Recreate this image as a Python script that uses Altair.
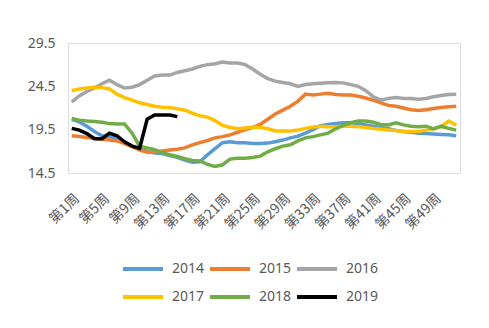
import altair as alt
import pandas as pd

weeks = [f"第{i}周" for i in range(1, 53)]
tick_labels = ["第1周", "第5周", "第9周", "第13周", "第17周", "第21周", "第25周",
               "第29周", "第33周", "第37周", "第41周", "第45周", "第49周"]
years = ["2014", "2015", "2016", "2017", "2018", "2019"]
colors = ["#5B9BD5", "#ED7D31", "#A5A5A5", "#FFC000", "#70AD47", "#000000"]

v2014 = [20.7, 20.4, 19.9, 19.3, 18.8, 18.7, 18.5, 18.0, 17.6, 17.3,
         17.0, 16.8, 16.75, 16.5, 16.3, 16.0, 15.75, 15.8, 16.6, 17.3,
         18.0, 18.1, 18.0, 18.0, 17.9, 17.9, 17.95, 18.1, 18.3, 18.55,
         18.75, 19.1, 19.5, 19.95, 20.1, 20.2, 20.3, 20.3, 20.2, 20.05,
         19.9, 19.75, 19.6, 19.4, 19.3, 19.2, 19.1, 19.05, 19.0, 18.95,
         18.9, 18.8]
v2015 = [18.8, 18.7, 18.6, 18.5, 18.4, 18.3, 18.2, 17.9, 17.55, 17.15,
         16.9, 16.9, 17.05, 17.15, 17.25, 17.4, 17.75, 18.0, 18.25, 18.55,
         18.7, 18.9, 19.2, 19.5, 19.75, 20.1, 20.7, 21.3, 21.75, 22.2,
         22.8, 23.6, 23.5, 23.6, 23.7, 23.55, 23.5, 23.5, 23.35, 23.15,
         22.9, 22.6, 22.3, 22.2, 22.0, 21.8, 21.7, 21.8, 21.95, 22.05,
         22.15, 22.2]
v2016 = [22.7, 23.4, 23.9, 24.3, 24.8, 25.2, 24.7, 24.3, 24.4, 24.7,
         25.2, 25.7, 25.8, 25.8, 26.1, 26.3, 26.5, 26.8, 27.0, 27.1,
         27.3, 27.2, 27.2, 27.0, 26.5, 25.9, 25.4, 25.1, 24.95, 24.8,
         24.5, 24.7, 24.8, 24.85, 24.9, 24.95, 24.9, 24.7, 24.5, 24.0,
         23.3, 22.9, 23.1, 23.2, 23.1, 23.1, 23.0, 23.1, 23.3, 23.45,
         23.55, 23.6]
v2017 = [24.0, 24.2, 24.3, 24.4, 24.35, 24.2, 23.6, 23.2, 22.9, 22.6,
         22.4, 22.2, 22.1, 22.05, 21.9, 21.75, 21.4, 21.1, 20.95, 20.55,
         20.0, 19.75, 19.6, 19.7, 19.8, 19.75, 19.6, 19.35, 19.35, 19.35,
         19.45, 19.65, 19.8, 19.9, 19.85, 19.85, 19.9, 19.9, 19.85, 19.75,
         19.65, 19.55, 19.45, 19.4, 19.3, 19.3, 19.3, 19.45, 19.6, 19.85,
         20.5, 20.0]
v2018 = [20.8, 20.6, 20.5, 20.45, 20.35, 20.2, 20.15, 20.15, 19.1, 17.6,
         17.4, 17.2, 16.85, 16.6, 16.4, 16.15, 15.95, 15.9, 15.5, 15.25,
         15.45, 16.1, 16.2, 16.2, 16.3, 16.45, 16.95, 17.3, 17.6, 17.75,
         18.2, 18.55, 18.7, 18.9, 19.1, 19.6, 20.0, 20.3, 20.5, 20.5,
         20.35, 20.1, 20.05, 20.3, 20.05, 19.9, 19.85, 19.9, 19.6, 19.9,
         19.65, 19.45]
v2019 = [19.65, 19.45, 19.05, 18.45, 18.45, 19.1, 18.8, 18.1, 17.6, 17.35,
         20.7, 21.2, 21.2, 21.2, 21.0]

series = [v2014, v2015, v2016, v2017, v2018, v2019]
rows = []
for y, vals in zip(years, series):
    for i, v in enumerate(vals):
        rows.append({"week": weeks[i], "year": y, "value": v, "order": i})
df = pd.DataFrame(rows)

FONT = "Noto Sans"
GREY = "#595959"

chart = alt.Chart(df).mark_line(strokeWidth=3.5).encode(
    x=alt.X("week:N", sort=weeks,
            scale=alt.Scale(type="point", domain=weeks, padding=0.5),
            axis=alt.Axis(values=tick_labels, title=None, labelAngle=-45,
                          labelAlign="right", labelBaseline="top",
                          labelFont="Noto Sans CJK SC", labelFontSize=14,
                          labelColor=GREY, domain=False, ticks=False,
                          labelPadding=18, grid=False, labelOverlap=False)),
    y=alt.Y("value:Q",
            scale=alt.Scale(domain=[14.5, 29.5], nice=False, zero=False),
            axis=alt.Axis(values=[14.5, 19.5, 24.5, 29.5], format=".1f",
                          title=None, labelFont=FONT, labelFontSize=14,
                          labelColor=GREY, domain=False, ticks=False,
                          grid=False, labelPadding=13)),
    color=alt.Color("year:N", scale=alt.Scale(domain=years, range=colors),
                    legend=alt.Legend(title=None, orient="none", legendX=65,
                                      legendY=216, columns=3,
                                      direction="horizontal",
                                      symbolType="M-2.5,0H2.5", symbolSize=256,
                                      symbolStrokeWidth=4,
                                      symbolFillColor="transparent",
                                      labelFont=FONT,
                                      labelFontSize=14, labelColor=GREY,
                                      labelOffset=19, columnPadding=-3,
                                      rowPadding=10)),
    order=alt.Order("order:Q"),
).properties(
    width=392, height=130,
    autosize=alt.AutoSizeParams(type="none"),
    padding={"left": 68, "top": 43, "right": 29, "bottom": 155},
).configure_view(stroke=None).configure(background="white")

chart.save("out.html", embed_options={"renderer": "svg", "actions": False})
